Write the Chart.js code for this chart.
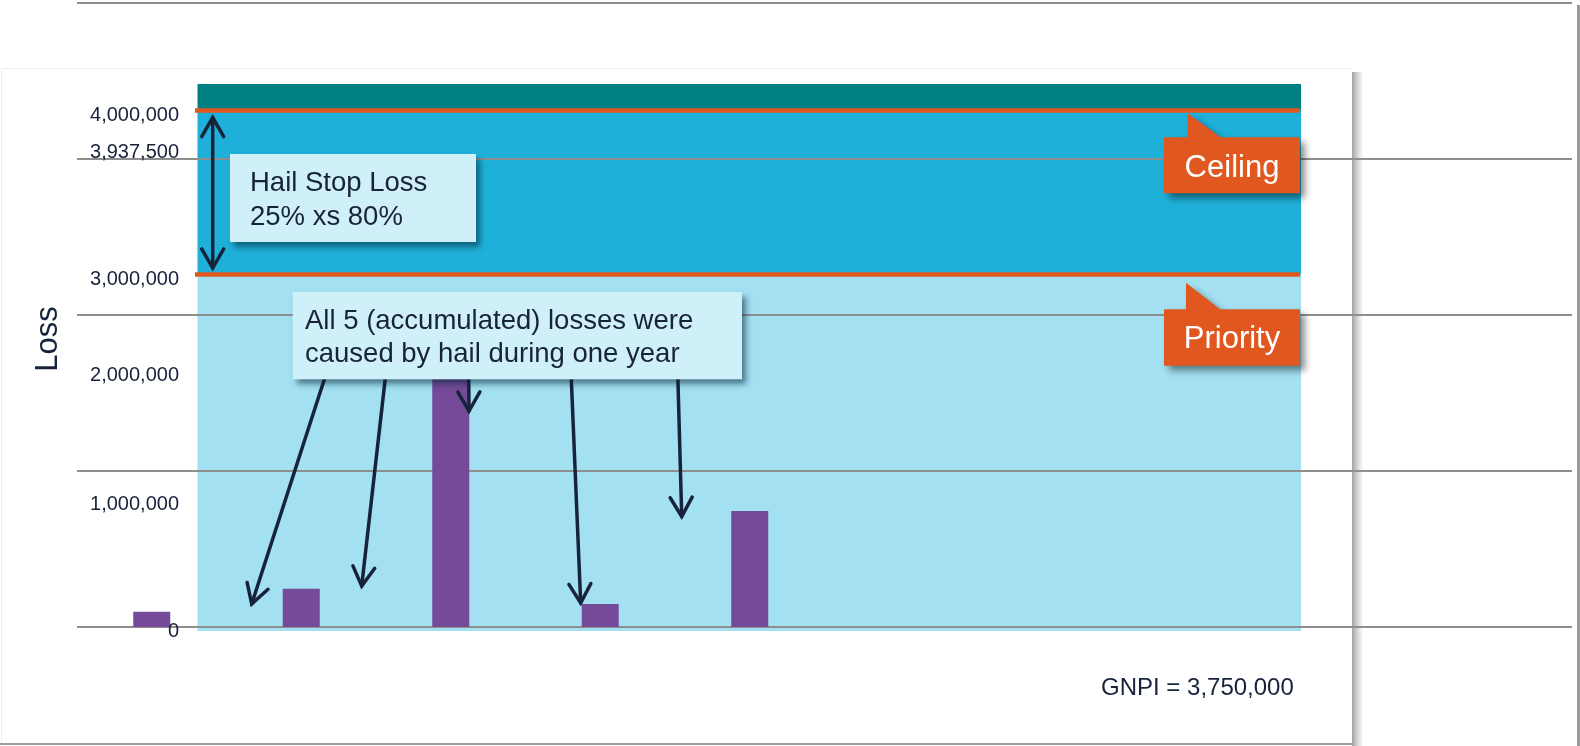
<!DOCTYPE html>
<html>
<head>
<meta charset="utf-8">
<script src="https://cdn.jsdelivr.net/npm/chart.js@4.4.1/dist/chart.umd.min.js"></script>
<style>
html,body{margin:0;padding:0;background:#fff;overflow:hidden}
canvas{display:block}
</style>
</head>
<body>
<canvas id="c" width="1580" height="746"></canvas>
<script>
// ---------------- data ----------------
const categories = ['1','2','3','4','5','6','7','8','9','10'];
const lossValues = [120000, 300000, 2000000, 180000, 910000, null, null, null, null, null];
const tickValues = [0, 1000000, 2000000, 3000000, 3937500, 4000000];
const tickLabels = ['0', '1,000,000', '2,000,000', '3,000,000', '3,937,500', '4,000,000'];
const priority = 3000000;
const ceiling = 4000000;
const layerTop = 4200000;
const gnpi = 3750000;
const bandFrom = [0, priority, ceiling];
const bandTo = [priority, ceiling, layerTop];
const boxText1 = ['Hail Stop Loss', '25% xs 80%'];
const boxText2 = ['All 5 (accumulated) losses were', 'caused by hail during one year'];

// ---------------- style / layout ----------------
const FONT = '"Liberation Sans", Arial, Helvetica, sans-serif';
const COL = {
  ink: '#17233a', grid: '#8e8e8e', bar: '#744a99',
  bands: ['#a3e1f2', '#1fb0d9', '#008080'],
  orange: '#e0581f', box: '#cfeff9'
};
// piecewise axis: pixel offset above the axis bottom for each stop value
const yStopValues = [0, 1000000, 2000000, 3000000, 3937500, 4000000, 4200000];
const yStopOffsets = [0, 127.5, 256, 352.5, 479.5, 516.5, 543];

class PiecewiseScale extends Chart.LinearScale {
  static id = 'piecewise';
  static defaults = {};
  _off(v) {
    let i = 1;
    while (i < yStopValues.length - 1 && v > yStopValues[i]) i++;
    const t = (v - yStopValues[i - 1]) / (yStopValues[i] - yStopValues[i - 1]);
    return yStopOffsets[i - 1] + t * (yStopOffsets[i] - yStopOffsets[i - 1]);
  }
  getPixelForValue(v) { return this.bottom - this._off(v); }
  getValueForPixel(p) {
    const o = this.bottom - p;
    let i = 1;
    while (i < yStopOffsets.length - 1 && o > yStopOffsets[i]) i++;
    const t = (o - yStopOffsets[i - 1]) / (yStopOffsets[i] - yStopOffsets[i - 1]);
    return yStopValues[i - 1] + t * (yStopValues[i] - yStopValues[i - 1]);
  }
}
Chart.register(PiecewiseScale);

function arrow(ctx, x1, y1, x2, y2, both) {
  const head = 22, ang = Math.PI / 6;
  ctx.beginPath(); ctx.moveTo(x1, y1); ctx.lineTo(x2, y2); ctx.stroke();
  const tip = (ax, ay, bx, by) => {
    const a = Math.atan2(by - ay, bx - ax);
    ctx.beginPath();
    ctx.moveTo(bx - head * Math.cos(a - ang), by - head * Math.sin(a - ang));
    ctx.lineTo(bx, by);
    ctx.lineTo(bx - head * Math.cos(a + ang), by - head * Math.sin(a + ang));
    ctx.stroke();
  };
  tip(x1, y1, x2, y2);
  if (both) tip(x2, y2, x1, y1);
}

function textBox(ctx, x, y, w, h, lines, tx, baselines) {
  ctx.save();
  ctx.shadowColor = 'rgba(0,35,55,0.55)';
  ctx.shadowBlur = 6; ctx.shadowOffsetX = 4; ctx.shadowOffsetY = 5;
  ctx.fillStyle = COL.box;
  ctx.fillRect(x, y, w, h);
  ctx.restore();
  ctx.fillStyle = COL.ink;
  ctx.font = '27.5px ' + FONT;
  ctx.textAlign = 'left'; ctx.textBaseline = 'alphabetic';
  lines.forEach((l, i) => ctx.fillText(l, tx, baselines[i]));
}

function callout(ctx, x, y, w, h, tipX, tipY, baseR, text, baseline) {
  ctx.save();
  ctx.shadowColor = 'rgba(0,0,0,0.45)';
  ctx.shadowBlur = 7; ctx.shadowOffsetX = 5; ctx.shadowOffsetY = 5;
  ctx.fillStyle = COL.orange;
  ctx.beginPath();
  ctx.moveTo(x, y); ctx.lineTo(tipX, y); ctx.lineTo(tipX, tipY); ctx.lineTo(baseR, y);
  ctx.lineTo(x + w, y); ctx.lineTo(x + w, y + h); ctx.lineTo(x, y + h); ctx.closePath();
  ctx.fill();
  ctx.restore();
  ctx.fillStyle = '#ffffff';
  ctx.font = '31px ' + FONT;
  ctx.textAlign = 'center'; ctx.textBaseline = 'alphabetic';
  ctx.fillText(text, x + w / 2, baseline);
}

const slidePlugin = {
  id: 'slide',
  beforeDraw(chart) {
    const ctx = chart.ctx;
    const y = chart.scales.y;
    ctx.save();
    ctx.fillStyle = '#ffffff';
    ctx.fillRect(0, 0, chart.width, chart.height);
    // slide right border
    ctx.fillStyle = '#9a9a9a';
    ctx.fillRect(1577, 5, 3, 741);
    // panel card edges
    ctx.fillStyle = '#eeeeee';
    ctx.fillRect(2, 68, 1350, 1);
    ctx.fillRect(1, 68, 1, 676);
    const g = ctx.createLinearGradient(1352, 0, 1363, 0);
    g.addColorStop(0, '#a3a3a3'); g.addColorStop(0.25, '#bdbdbd'); g.addColorStop(0.6, '#dedede'); g.addColorStop(1, '#fbfbfb');
    ctx.fillStyle = g;
    ctx.fillRect(1352, 72, 11, 674);
    ctx.fillStyle = '#9d9d9d';
    ctx.fillRect(0, 743, 1354, 2);
    // bands
    const L = 197.5, R = 1301;
    for (let i = 0; i < bandFrom.length; i++) {
      const top = y.getPixelForValue(bandTo[i]);
      let bot = y.getPixelForValue(bandFrom[i]);
      if (i === 0) bot += 4;
      ctx.fillStyle = COL.bands[i];
      ctx.fillRect(L, top, R - L, bot - top);
    }
    ctx.restore();
  },
  afterDatasetsDraw(chart) {
    const ctx = chart.ctx;
    const y = chart.scales.y;
    ctx.save();
    // priority & ceiling lines
    ctx.strokeStyle = COL.orange; ctx.lineWidth = 4.5;
    [priority, ceiling].forEach(v => {
      const p = y.getPixelForValue(v);
      ctx.beginPath(); ctx.moveTo(195, p); ctx.lineTo(1300, p); ctx.stroke();
    });
    // tick labels
    ctx.fillStyle = COL.ink; ctx.font = '20px ' + FONT;
    ctx.textAlign = 'right'; ctx.textBaseline = 'alphabetic';
    tickValues.forEach((v, i) => ctx.fillText(tickLabels[i], 179, y.getPixelForValue(v) + 3 + 7.2));
    // axis title
    ctx.save();
    ctx.translate(57, 339); ctx.rotate(-Math.PI / 2);
    ctx.font = '31px ' + FONT; ctx.textAlign = 'center';
    ctx.fillText('Loss', 0, 0);
    ctx.restore();
    // arrows
    ctx.strokeStyle = COL.ink; ctx.lineWidth = 3.5; ctx.lineCap = 'round'; ctx.lineJoin = 'miter';
    arrow(ctx, 212.7, 268, 212.7, 117.5, true);
    arrow(ctx, 326.7, 372, 251.7, 604);
    arrow(ctx, 386, 372, 361.7, 586);
    arrow(ctx, 468.7, 372, 469, 411);
    arrow(ctx, 571, 372, 580.7, 603);
    arrow(ctx, 677.7, 372, 681.7, 516.5);
    // text boxes
    textBox(ctx, 230, 154, 246, 88, boxText1, 250, [190.7, 225]);
    textBox(ctx, 292.7, 292, 449.3, 87.3, boxText2, 305, [329.3, 362.3]);
    // callouts
    callout(ctx, 1164, 137.3, 136, 56, 1187.7, 113.3, 1220.7, 'Ceiling', 176.7);
    callout(ctx, 1164, 309.3, 136, 56.4, 1186, 282.7, 1220, 'Priority', 348.3);
    // GNPI
    ctx.fillStyle = COL.ink; ctx.font = '24px ' + FONT; ctx.textAlign = 'left';
    ctx.fillText('GNPI = ' + gnpi.toLocaleString('en-US'), 1101, 694.5);
    ctx.restore();
  }
};

new Chart(document.getElementById('c'), {
  type: 'bar',
  data: {
    labels: categories,
    datasets: [{
      data: lossValues,
      backgroundColor: COL.bar,
      borderWidth: 0,
      barPercentage: 37 / 149.5,
      categoryPercentage: 1,
      yAxisID: 'y'
    }]
  },
  options: {
    responsive: false,
    animation: false,
    events: [],
    layout: { padding: { left: 77, right: 8, top: 3, bottom: 119 } },
    plugins: { legend: { display: false }, tooltip: { enabled: false } },
    scales: {
      x: { display: false },
      y: { type: 'piecewise', display: false, min: 0, max: layerTop },
      yGrid: {
        type: 'linear', position: 'left', min: 0, max: 4,
        ticks: { display: false, stepSize: 1 },
        border: { display: false },
        grid: { color: COL.grid, lineWidth: 2, drawTicks: false }
      }
    }
  },
  plugins: [slidePlugin]
});
</script>
</body>
</html>
